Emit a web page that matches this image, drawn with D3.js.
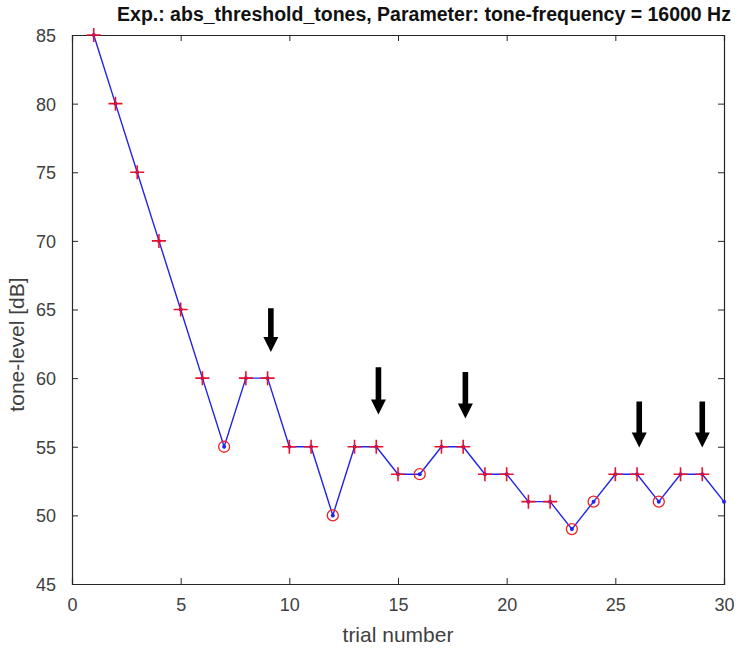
<!DOCTYPE html>
<html>
<head>
<meta charset="utf-8">
<script src="https://cdn.jsdelivr.net/npm/d3@7"></script>
<style>
  body { margin: 0; background: #fff; }
  text { font-family: "Liberation Sans", Arial, sans-serif; }
</style>
</head>
<body>
<div id="vis"></div>
<script>
var margin = { top: 35, right: 22, bottom: 64, left: 72 };

var width = 746 - margin.left - margin.right,
    height = 648 - margin.top - margin.bottom;

// trial data
var trials = d3.range(1, 31);
var levels = [85, 80, 75, 70, 65, 60, 55, 60, 60, 55,
              55, 50, 55, 55, 53, 53, 55, 55, 53, 53,
              51, 51, 49, 51, 53, 53, 51, 53, 53, 51];
// response per trial: "+" heard, "o" not heard, "" none yet
var responses = ["+", "+", "+", "+", "+", "+", "o", "+", "+", "+",
                 "+", "o", "+", "+", "+", "o", "+", "+", "+", "+",
                 "+", "+", "o", "o", "+", "+", "o", "+", "+", ""];

// reversal arrows: x position, top and tip level
var arrowX = [9.15, 14.1, 18.1, 26.1, 29];
var arrowTop = [65.1, 60.8, 60.45, 58.3, 58.3];
var arrowTip = [61.9, 57.35, 57.05, 54.95, 54.95];

var xTicks = [0, 5, 10, 15, 20, 25, 30];
var yTicks = [45, 50, 55, 60, 65, 70, 75, 80, 85];

var points = trials.map((t, i) => ({ trial: t, level: levels[i], resp: responses[i] }));

var svg = d3.select("#vis")
    .append("svg")
    .attr("width", width + margin.left + margin.right)
    .attr("height", height + margin.top + margin.bottom)
    .append("g")
    .attr("transform", "translate(" + margin.left + "," + margin.top + ")");

var x = d3.scaleLinear().domain([0, 30]).range([0, width]);
var y = d3.scaleLinear().domain([45, 85]).range([height, 0]);

var axisColor = "#262626";

//axes with inner ticks, box on
{
    var xAxis = d3.axisBottom(x).tickValues(xTicks).tickSize(-6).tickPadding(14);
    var yAxis = d3.axisLeft(y).tickValues(yTicks).tickSize(-6).tickPadding(16);

    var gx = svg.append("g")
        .attr("transform", "translate(0," + height + ")")
        .call(xAxis);
    var gy = svg.append("g").call(yAxis);

    svg.append("g")
        .call(d3.axisTop(x).tickValues(xTicks).tickSize(-6).tickFormat(""));
    svg.append("g")
        .attr("transform", "translate(" + width + ",0)")
        .call(d3.axisRight(y).tickValues(yTicks).tickSize(-6).tickFormat(""));

    svg.selectAll(".domain").attr("stroke", axisColor).attr("stroke-width", 1.2);
    svg.selectAll(".tick line").attr("stroke", axisColor);
    svg.selectAll(".tick text")
        .attr("fill", "#404040")
        .style("font-size", "18px");
    gy.selectAll(".tick text").attr("dy", "0.36em");
}

// title and labels
svg.append("text")
    .attr("x", width / 2 + 26)
    .attr("y", -14)
    .attr("text-anchor", "middle")
    .style("font-size", "19.5px")
    .style("font-weight", "bold")
    .attr("fill", "#111")
    .text("Exp.: abs_threshold_tones, Parameter: tone-frequency = 16000 Hz");

svg.append("text")
    .attr("x", width / 2)
    .attr("y", height + 58)
    .attr("text-anchor", "middle")
    .style("font-size", "21px")
    .attr("fill", "#404040")
    .text("trial number");

svg.append("text")
    .attr("transform", "translate(-48," + (height / 2 + 35) + ") rotate(-90)")
    .attr("text-anchor", "middle")
    .style("font-size", "21px")
    .attr("fill", "#404040")
    .text("tone-level [dB]");

// track line
var line = d3.line()
    .x(d => x(d.trial))
    .y(d => y(d.level));

svg.append("path")
    .datum(points)
    .attr("fill", "none")
    .attr("stroke", "#2222ee")
    .attr("stroke-width", 1.4)
    .attr("d", line);

svg.selectAll("circle.dot")
    .data(points)
    .enter().append("circle")
    .attr("class", "dot")
    .attr("cx", d => x(d.trial))
    .attr("cy", d => y(d.level))
    .attr("r", 2)
    .attr("fill", "#2222ee");

// response markers
svg.selectAll("circle.no")
    .data(points.filter(d => d.resp === "o"))
    .enter().append("circle")
    .attr("class", "no")
    .attr("cx", d => x(d.trial))
    .attr("cy", d => y(d.level))
    .attr("r", 5.5)
    .attr("fill", "none")
    .attr("stroke", "#ee2222")
    .attr("stroke-width", 1.3);

svg.selectAll("path.yes")
    .data(points.filter(d => d.resp === "+"))
    .enter().append("path")
    .attr("class", "yes")
    .attr("d", d => {
        var cx = x(d.trial), cy = y(d.level), s = 7;
        return "M" + (cx - s) + "," + cy + "H" + (cx + s) + "M" + cx + "," + (cy - s) + "V" + (cy + s);
    })
    .attr("stroke", "#e8112d")
    .attr("stroke-width", 1.6);

// arrows
var arrows = svg.selectAll("g.arrow")
    .data(arrowX.map((v, i) => ({ x: v, top: arrowTop[i], tip: arrowTip[i] })))
    .enter().append("g")
    .attr("class", "arrow");

arrows.append("path")
    .attr("d", d => {
        var cx = x(d.x), y0 = y(d.top), y1 = y(d.tip), hh = 15, hw = 7.5, sw = 2.8;
        return "M" + (cx - sw) + "," + y0 + "H" + (cx + sw) + "V" + (y1 - hh) +
            "H" + (cx + hw) + "L" + cx + "," + y1 + "L" + (cx - hw) + "," + (y1 - hh) +
            "H" + (cx - sw) + "Z";
    })
    .attr("fill", "#000");
</script>
</body>
</html>
